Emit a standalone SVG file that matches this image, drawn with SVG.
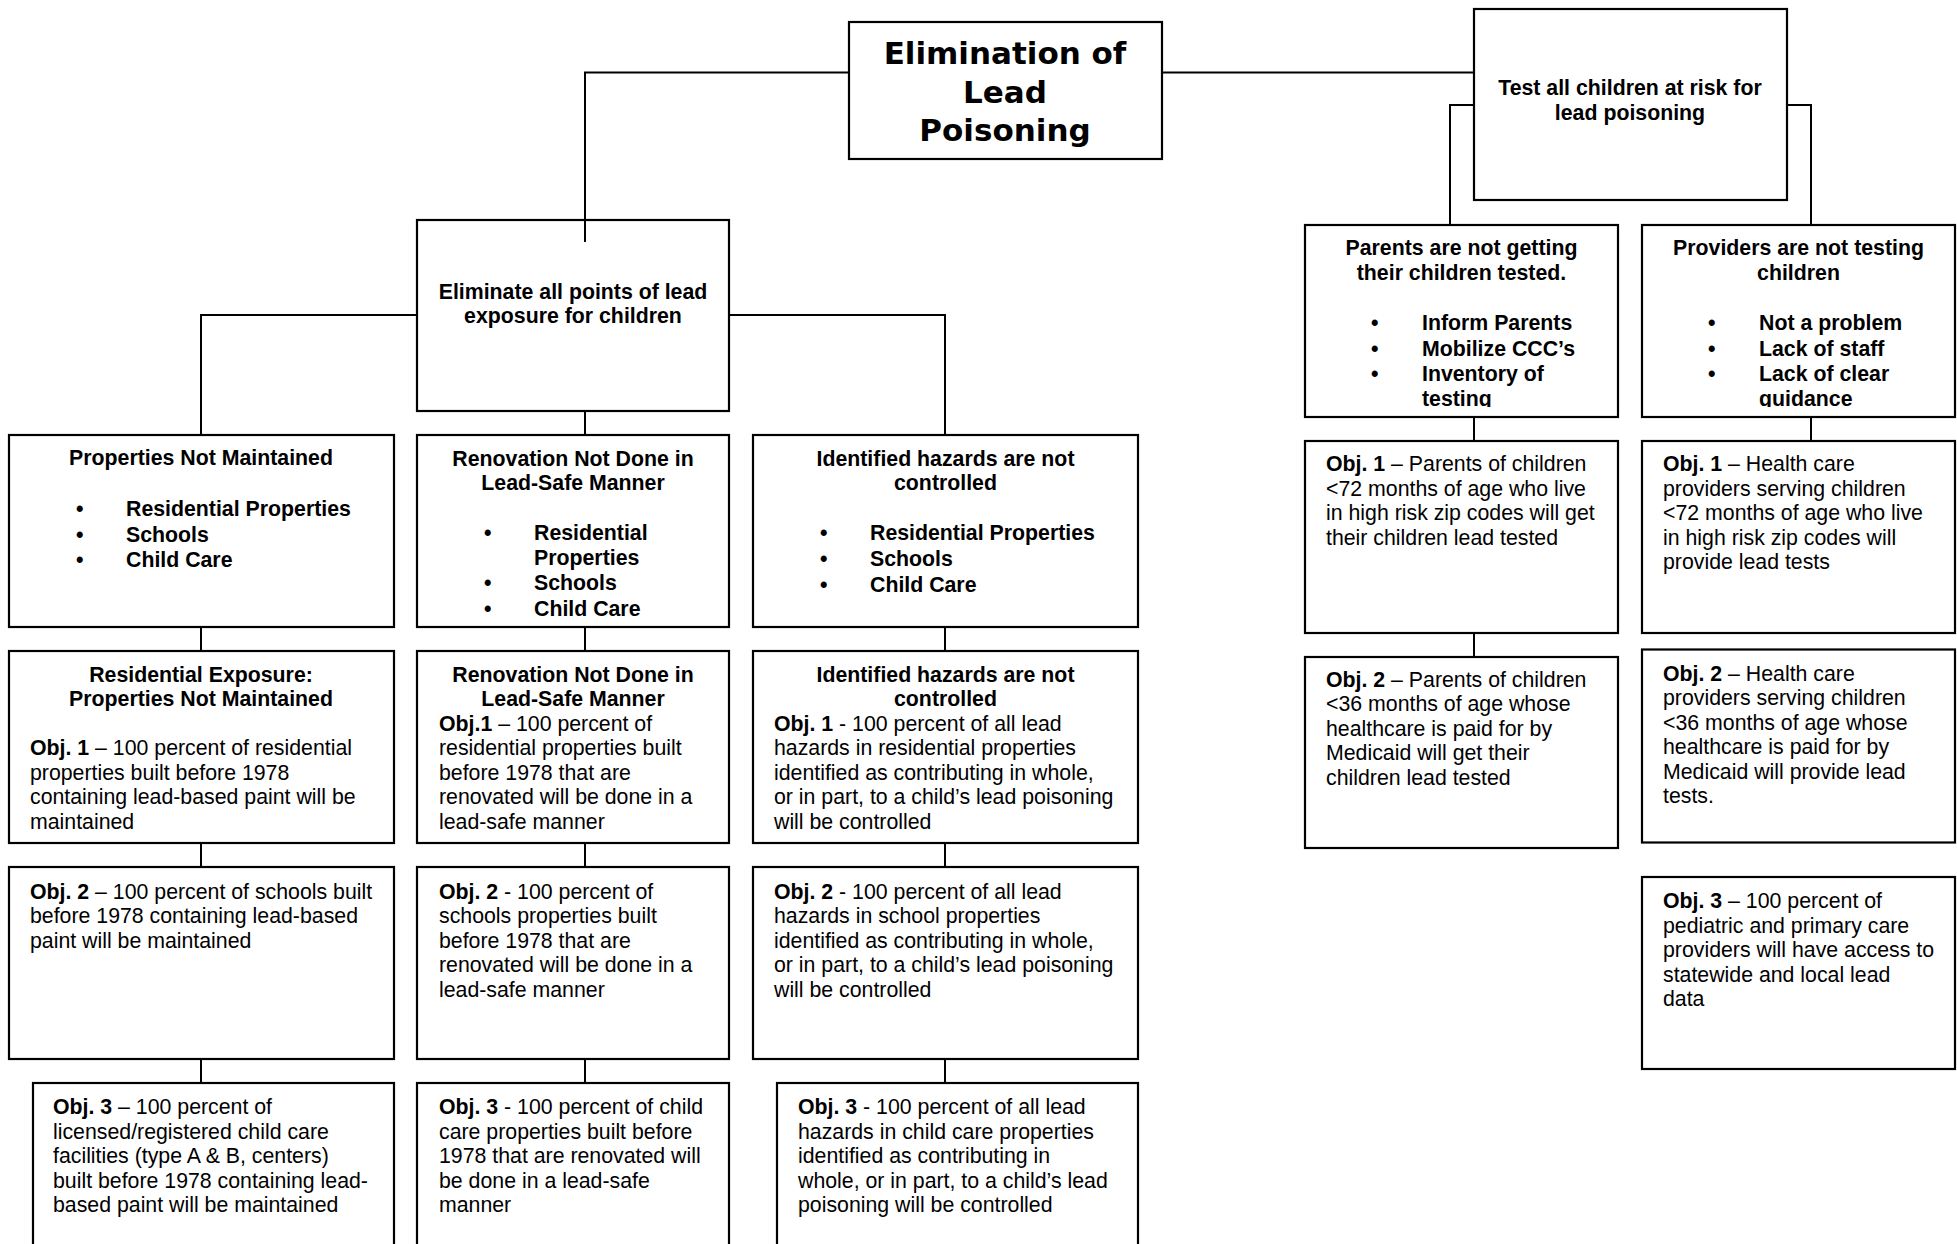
<svg xmlns="http://www.w3.org/2000/svg" width="1957" height="1244" viewBox="0 0 1957 1244">
<style>
.box{fill:#fff;stroke:#000;stroke-width:2.2}
.con{fill:none;stroke:#000;stroke-width:2}
text{font-family:"Liberation Sans",Arial,sans-serif;font-size:21.3px;fill:#000}
.b{font-weight:bold}
.c{text-anchor:middle}
.title{font-family:"DejaVu Sans",Verdana,sans-serif;font-size:31px;font-weight:bold}
</style>
<defs>
<clipPath id="clipP"><rect x="1306" y="226" width="311" height="181"/></clipPath>
<clipPath id="clipV"><rect x="1643" y="226" width="311" height="181"/></clipPath>
</defs>
<rect width="1957" height="1244" fill="#fff"/>

<g id="n-elimination">
<rect class="box" x="849" y="22" width="313" height="137"/>
<text class="title c" x="1005" y="64">Elimination of</text>
<text class="title c" x="1005" y="102.5">Lead</text>
<text class="title c" x="1005" y="141">Poisoning</text>
</g>

<g id="n-test">
<rect class="box" x="1474" y="9" width="313" height="191"/>
<text class="b c" x="1630" y="95">Test all children at risk for</text>
<text class="b c" x="1630" y="119.5">lead poisoning</text>
</g>

<g id="n-eliminate">
<rect class="box" x="417" y="220" width="312" height="191"/>
<text class="b c" x="573" y="298.5">Eliminate all points of lead</text>
<text class="b c" x="573" y="323">exposure for children</text>
</g>

<g id="n-parents">
<rect class="box" x="1305" y="225" width="313" height="192"/>
<g clip-path="url(#clipP)">
<text class="b c" x="1461.5" y="255">Parents are not getting</text>
<text class="b c" x="1461.5" y="280">their children tested.</text>
<text class="b" x="1371" y="330">•</text><text class="b" x="1422" y="330">Inform Parents</text>
<text class="b" x="1371" y="355.5">•</text><text class="b" x="1422" y="355.5">Mobilize CCC’s</text>
<text class="b" x="1371" y="381">•</text><text class="b" x="1422" y="381">Inventory of</text>
<text class="b" x="1422" y="406">testing</text>
</g>
</g>

<g id="n-providers">
<rect class="box" x="1642" y="225" width="313" height="192"/>
<g clip-path="url(#clipV)">
<text class="b c" x="1798.5" y="255">Providers are not testing</text>
<text class="b c" x="1798.5" y="280">children</text>
<text class="b" x="1708" y="330">•</text><text class="b" x="1759" y="330">Not a problem</text>
<text class="b" x="1708" y="355.5">•</text><text class="b" x="1759" y="355.5">Lack of staff</text>
<text class="b" x="1708" y="381">•</text><text class="b" x="1759" y="381">Lack of clear</text>
<text class="b" x="1759" y="406">guidance</text>
</g>
</g>

<g id="n-properties">
<rect class="box" x="9" y="435" width="385" height="192"/>
<text class="b c" x="201" y="465">Properties Not Maintained</text>
<text class="b" x="76" y="516">•</text><text class="b" x="126" y="516">Residential Properties</text>
<text class="b" x="76" y="541.5">•</text><text class="b" x="126" y="541.5">Schools</text>
<text class="b" x="76" y="567">•</text><text class="b" x="126" y="567">Child Care</text>
</g>

<g id="n-renovation">
<rect class="box" x="417" y="435" width="312" height="192"/>
<text class="b c" x="573" y="466">Renovation Not Done in</text>
<text class="b c" x="573" y="490">Lead-Safe Manner</text>
<text class="b" x="484" y="540">•</text><text class="b" x="534" y="540">Residential</text>
<text class="b" x="534" y="564.5">Properties</text>
<text class="b" x="484" y="590">•</text><text class="b" x="534" y="590">Schools</text>
<text class="b" x="484" y="616">•</text><text class="b" x="534" y="616">Child Care</text>
</g>

<g id="n-identified">
<rect class="box" x="753" y="435" width="385" height="192"/>
<text class="b c" x="945.5" y="466">Identified hazards are not</text>
<text class="b c" x="945.5" y="490">controlled</text>
<text class="b" x="820" y="540">•</text><text class="b" x="870" y="540">Residential Properties</text>
<text class="b" x="820" y="566">•</text><text class="b" x="870" y="566">Schools</text>
<text class="b" x="820" y="592">•</text><text class="b" x="870" y="592">Child Care</text>
</g>

<g id="n-res-obj1">
<rect class="box" x="9" y="651" width="385" height="192"/>
<text class="b c" x="201" y="682">Residential Exposure:</text>
<text class="b c" x="201" y="705.5">Properties Not Maintained</text>
<text x="30" y="755"><tspan class="b">Obj. 1</tspan> – 100 percent of residential</text>
<text x="30" y="779.5">properties built before 1978</text>
<text x="30" y="804">containing lead-based paint will be</text>
<text x="30" y="828.5">maintained</text>
</g>

<g id="n-ren-obj1">
<rect class="box" x="417" y="651" width="312" height="192"/>
<text class="b c" x="573" y="682">Renovation Not Done in</text>
<text class="b c" x="573" y="705.5">Lead-Safe Manner</text>
<text x="439" y="730.5"><tspan class="b">Obj.1</tspan> – 100 percent of</text>
<text x="439" y="755">residential properties built</text>
<text x="439" y="779.5">before 1978 that are</text>
<text x="439" y="804">renovated will be done in a</text>
<text x="439" y="828.5">lead-safe manner</text>
</g>

<g id="n-id-obj1">
<rect class="box" x="753" y="651" width="385" height="192"/>
<text class="b c" x="945.5" y="682">Identified hazards are not</text>
<text class="b c" x="945.5" y="705.5">controlled</text>
<text x="774" y="730.5"><tspan class="b">Obj. 1</tspan> - 100 percent of all lead</text>
<text x="774" y="755">hazards in residential properties</text>
<text x="774" y="779.5">identified as contributing in whole,</text>
<text x="774" y="804">or in part, to a child’s lead poisoning</text>
<text x="774" y="828.5">will be controlled</text>
</g>

<g id="n-res-obj2">
<rect class="box" x="9" y="867" width="385" height="192"/>
<text x="30" y="898.5"><tspan class="b">Obj. 2</tspan> – 100 percent of schools built</text>
<text x="30" y="923">before 1978 containing lead-based</text>
<text x="30" y="947.5">paint will be maintained</text>
</g>

<g id="n-ren-obj2">
<rect class="box" x="417" y="867" width="312" height="192"/>
<text x="439" y="898.5"><tspan class="b">Obj. 2</tspan> - 100 percent of</text>
<text x="439" y="923">schools properties built</text>
<text x="439" y="947.5">before 1978 that are</text>
<text x="439" y="972">renovated will be done in a</text>
<text x="439" y="996.5">lead-safe manner</text>
</g>

<g id="n-id-obj2">
<rect class="box" x="753" y="867" width="385" height="192"/>
<text x="774" y="898.5"><tspan class="b">Obj. 2</tspan> - 100 percent of all lead</text>
<text x="774" y="923">hazards in school properties</text>
<text x="774" y="947.5">identified as contributing in whole,</text>
<text x="774" y="972">or in part, to a child’s lead poisoning</text>
<text x="774" y="996.5">will be controlled</text>
</g>

<g id="n-res-obj3">
<rect class="box" x="33" y="1083" width="361" height="200"/>
<text x="53" y="1114"><tspan class="b">Obj. 3</tspan> – 100 percent of</text>
<text x="53" y="1138.5">licensed/registered child care</text>
<text x="53" y="1163">facilities (type A &amp; B, centers)</text>
<text x="53" y="1187.5">built before 1978 containing lead-</text>
<text x="53" y="1212">based paint will be maintained</text>
</g>

<g id="n-ren-obj3">
<rect class="box" x="417" y="1083" width="312" height="200"/>
<text x="439" y="1114"><tspan class="b">Obj. 3</tspan> - 100 percent of child</text>
<text x="439" y="1138.5">care properties built before</text>
<text x="439" y="1163">1978 that are renovated will</text>
<text x="439" y="1187.5">be done in a lead-safe</text>
<text x="439" y="1212">manner</text>
</g>

<g id="n-id-obj3">
<rect class="box" x="777" y="1083" width="361" height="200"/>
<text x="798" y="1114"><tspan class="b">Obj. 3</tspan> - 100 percent of all lead</text>
<text x="798" y="1138.5">hazards in child care properties</text>
<text x="798" y="1163">identified as contributing in</text>
<text x="798" y="1187.5">whole, or in part, to a child’s lead</text>
<text x="798" y="1212">poisoning will be controlled</text>
</g>

<g id="n-par-obj1">
<rect class="box" x="1305" y="441" width="313" height="192"/>
<text x="1326" y="471"><tspan class="b">Obj. 1</tspan> – Parents of children</text>
<text x="1326" y="495.5">&lt;72 months of age who live</text>
<text x="1326" y="520">in high risk zip codes will get</text>
<text x="1326" y="544.5">their children lead tested</text>
</g>

<g id="n-par-obj2">
<rect class="box" x="1305" y="657" width="313" height="191"/>
<text x="1326" y="686.5"><tspan class="b">Obj. 2</tspan> – Parents of children</text>
<text x="1326" y="711">&lt;36 months of age whose</text>
<text x="1326" y="735.5">healthcare is paid for by</text>
<text x="1326" y="760">Medicaid will get their</text>
<text x="1326" y="784.5">children lead tested</text>
</g>

<g id="n-prov-obj1">
<rect class="box" x="1642" y="441" width="313" height="192"/>
<text x="1663" y="471"><tspan class="b">Obj. 1</tspan> – Health care</text>
<text x="1663" y="495.5">providers serving children</text>
<text x="1663" y="520">&lt;72 months of age who live</text>
<text x="1663" y="544.5">in high risk zip codes will</text>
<text x="1663" y="569">provide lead tests</text>
</g>

<g id="n-prov-obj2">
<rect class="box" x="1642" y="649.5" width="313" height="193"/>
<text x="1663" y="680.5"><tspan class="b">Obj. 2</tspan> – Health care</text>
<text x="1663" y="705">providers serving children</text>
<text x="1663" y="729.5">&lt;36 months of age whose</text>
<text x="1663" y="754">healthcare is paid for by</text>
<text x="1663" y="778.5">Medicaid will provide lead</text>
<text x="1663" y="803">tests.</text>
</g>

<g id="n-prov-obj3">
<rect class="box" x="1642" y="877" width="313" height="192"/>
<text x="1663" y="908"><tspan class="b">Obj. 3</tspan> – 100 percent of</text>
<text x="1663" y="932.5">pediatric and primary care</text>
<text x="1663" y="957">providers will have access to</text>
<text x="1663" y="981.5">statewide and local lead</text>
<text x="1663" y="1006">data</text>
</g>

<g id="connectors" class="con">
<path class="con" d="M1162 72.5H1474"/>
<path class="con" d="M849 72.5H585V242"/>
<path class="con" d="M417 315H201V435"/>
<path class="con" d="M729 315H945V435"/>
<path class="con" d="M585 411V435"/>
<path class="con" d="M201 627V651M201 843V867M201 1059V1083"/>
<path class="con" d="M585 627V651M585 843V867M585 1059V1083"/>
<path class="con" d="M945 627V651M945 843V867M945 1059V1083"/>
<path class="con" d="M1474 105H1450V225"/>
<path class="con" d="M1787 105H1811V225"/>
<path class="con" d="M1474 417V441M1474 633V657"/>
<path class="con" d="M1811 417V441"/>
</g>
</svg>
